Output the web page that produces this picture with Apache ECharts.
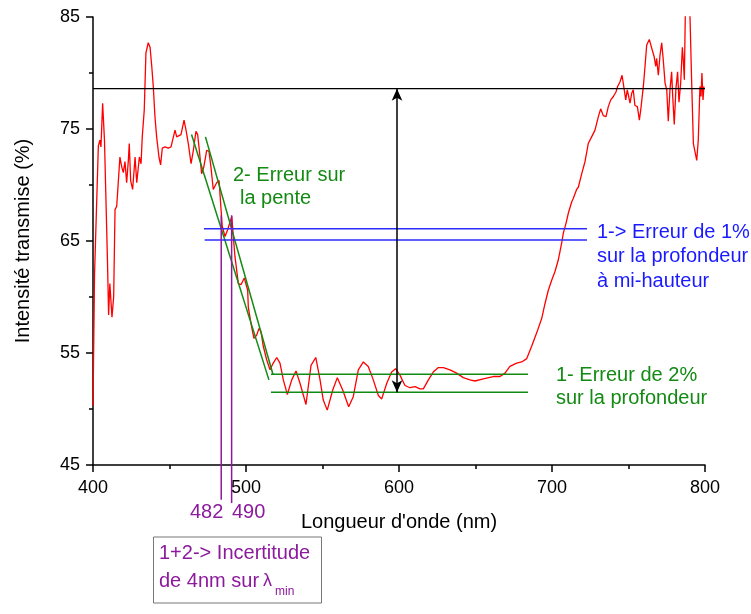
<!DOCTYPE html>
<html>
<head>
<meta charset="utf-8">
<script src="https://cdn.jsdelivr.net/npm/echarts@6/dist/echarts.min.js"></script>
<style>
  html, body { margin: 0; padding: 0; background: #fff; }
  #main { width: 751px; height: 614px; }
</style>
</head>
<body>
<div id="main"></div>
<script>
var wavelength = [400, 401, 403.5, 404.5, 405.2, 406.3, 407.5, 409.5, 410.2, 411, 412.4, 413.5, 414.4, 415.5, 416.5, 417.6, 418.8, 419.8, 420.9, 422, 423.1, 423.7, 424.6, 425.9, 427.5, 428.6, 430.3, 431.4, 432.2, 433.5, 434.6, 436.1, 437.3, 438.4, 439.4, 440.5, 441.6, 443.1, 444.2, 445.3, 447.1, 449.2, 451, 451.8, 453.6, 454.7, 455.8, 457.5, 459.5, 460.8, 462.3, 464.1, 465.6, 467.3, 468.4, 469.5, 471, 472.4, 474.3, 475.8, 477.1, 478.6, 480.8, 482.4, 483.7, 484.5, 486.3, 488, 490.7, 491.7, 492.8, 495, 496.7, 498.9, 501.1, 501.5, 503.7, 505.2, 507, 508.5, 509.8, 511.3, 513.5, 515.7, 517.8, 520.1, 522.2, 524.4, 527, 529.9, 532.7, 535.3, 539.2, 542.5, 545.6, 548.4, 550.5, 553.1, 556.7, 559.7, 563.2, 567.1, 570.1, 573.4, 576.7, 579.9, 583.2, 586.5, 588.7, 592, 595.2, 597.8, 600.7, 603.9, 607.2, 610.5, 613.7, 615.9, 619.2, 622.4, 625.7, 629, 633.3, 637.7, 642, 646.4, 649.7, 655.1, 661.6, 666, 669.3, 672.5, 676.9, 680.2, 683.5, 686.7, 690, 693.3, 695.4, 697.6, 699.8, 702, 704.1, 706.3, 707.4, 709.2, 710.7, 712.9, 713.9, 716.1, 717.2, 719.4, 721.6, 723.7, 725.9, 728.1, 730.3, 731.8, 733.5, 735.3, 736.8, 738.4, 740.1, 741.8, 742.9, 744.4, 745.8, 747.1, 748.2, 749.2, 751, 752.1, 753.1, 754.2, 755.8, 757.1, 758, 759.7, 760.8, 761.9, 763.6, 765.2, 766.7, 767.8, 768.4, 769.5, 770.6, 771.7, 772.7, 773.9, 775, 776, 777.1, 778.2, 778.9, 779.9, 781, 782.1, 783, 784.1, 785.2, 785.8, 786.5, 787.1, 788.6, 790.2, 791.3, 792.4, 794.6, 795.6, 796.7, 797.4, 798, 798.7, 799.3];
var transmission = [50.3, 62, 73.5, 74.0, 73.4, 77.3, 74.0, 63, 58.4, 61.2, 58.2, 60, 67.8, 68.1, 70.2, 72.5, 71.6, 71.1, 72.1, 70.2, 72.2, 73.7, 70.4, 69.6, 72.5, 70.2, 72.5, 71.9, 74.3, 76.7, 81.8, 82.7, 82.3, 80.6, 78.8, 76.1, 74.3, 72.5, 71.8, 73.3, 73.4, 73.3, 73.4, 73.3, 74.9, 74.3, 74.2, 74.5, 75.8, 74.9, 73.7, 71.9, 73.1, 74.8, 74.5, 73.1, 71.0, 71.6, 73.1, 73.0, 71.6, 69.6, 70.2, 70.4, 67.8, 66.3, 65.4, 66.0, 67.2, 65.4, 63.6, 61.2, 61.1, 61.7, 60.6, 59.1, 57.3, 56.3, 56.6, 57.2, 56.9, 55.6, 54.4, 53.5, 54.1, 54.6, 54.1, 52.6, 51.3, 52.6, 53.4, 52.3, 50.4, 53.9, 54.6, 52.6, 50.8, 49.9, 51.7, 52.8, 51.7, 50.2, 51.1, 53.5, 54.2, 53.8, 52.6, 51.2, 50.9, 52.3, 53.3, 53.6, 53.0, 52.1, 51.9, 52.0, 51.8, 51.8, 52.6, 53.3, 53.7, 53.7, 53.5, 53.2, 52.8, 52.6, 52.5, 52.7, 52.9, 52.9, 53.2, 53.8, 54.1, 54.2, 54.5, 55.6, 56.8, 58.1, 59.4, 60.6, 61.5, 62.3, 63.3, 64.8, 65.7, 66.6, 67.5, 68.5, 68.8, 69.6, 69.8, 71.0, 72.1, 73.7, 74.3, 74.9, 76.1, 76.8, 76.2, 76.1, 77.0, 77.6, 77.9, 78.3, 78.8, 79.2, 79.8, 78.6, 77.6, 78.5, 77.3, 78.2, 78.5, 77.1, 77.0, 75.8, 76.7, 78.8, 80.6, 82.5, 83.0, 82.2, 81.5, 80.6, 81.3, 79.8, 81.6, 82.7, 81.2, 79.1, 78.5, 75.7, 78.5, 80.1, 77.9, 75.4, 78.6, 80.1, 77.4, 79.1, 82.3, 81.2, 79.4, 85.0, 87.5, 85.0, 79.1, 73.7, 72.2, 74.0, 78.8, 77.9, 80.0, 77.6, 78.8];

// repères
var xTicks = [400, 800, 100];
var yTicks = [45, 85, 10];
var baseline = 78.6;            // ligne 100% (haut)
var arrowX = 598.7;
var arrowY = [78.6, 51.5];
var depthLines = [[516.3, 53.1, 684.3, 53.1], [516.3, 51.5, 684.3, 51.5]];
var slopeLines = [[464.4, 74.5, 515.0, 52.6], [473.5, 74.3, 517.6, 53.1]];
var halfLines = [[472.5, 66.1, 722.9, 66.1], [473.0, 65.1, 722.9, 65.1]];
var lambdaLines = [[483.8, 67.3, 483.8, 41.9], [490.6, 67.3, 490.6, 41.6]];

function seg(s) { return [[s[0], s[1]], [s[2], s[3]]]; }

var font = 'Arial, "Liberation Sans", sans-serif';
var myChart = echarts.init(document.getElementById('main'));

var series = [
  {
    type: 'line', data: wavelength.map(function (w, i) { return [w, transmission[i]]; }),
    symbol: 'none', lineStyle: { color: '#ff0000', width: 1.3 }, silent: true, z: 3
  },
  {
    type: 'line', data: [[400, baseline], [800, baseline]], symbol: 'none',
    lineStyle: { color: '#000', width: 1.3 }, silent: true,
    markLine: {
      silent: true, symbol: ['arrow', 'arrow'], symbolSize: [8, 12],
      lineStyle: { color: '#000', width: 1.5, type: 'solid' }, label: { show: false },
      data: [[{ coord: [arrowX, arrowY[0]] }, { coord: [arrowX, arrowY[1]] }]]
    }
  }
];
depthLines.concat(slopeLines).forEach(function (s) {
  series.push({ type: 'line', data: seg(s), symbol: 'none', silent: true, lineStyle: { color: '#138a13', width: 1.5 } });
});
halfLines.forEach(function (s) {
  series.push({ type: 'line', data: seg(s), symbol: 'none', silent: true, lineStyle: { color: '#2b2bff', width: 1.5 } });
});
lambdaLines.forEach(function (s) {
  series.push({ type: 'line', data: seg(s), symbol: 'none', silent: true, clip: false, lineStyle: { color: '#8c1a9c', width: 1.5 } });
});

function txt(t, x, y, color, size) {
  return { type: 'text', x: x, y: y, silent: true,
    style: { text: t, fill: color, font: size + 'px ' + font, verticalAlign: 'middle' } };
}

option = {
  animation: false,
  backgroundColor: '#fff',
  grid: { left: 93, right: 46, top: 17, bottom: 149, outerBoundsMode: 'none', containLabel: false },
  xAxis: {
    type: 'value', min: xTicks[0], max: xTicks[1], interval: xTicks[2],
    name: "Longueur d'onde (nm)", nameLocation: 'middle', nameGap: 47,
    nameTextStyle: { color: '#000', fontSize: 20, fontFamily: font },
    axisLine: { lineStyle: { color: '#000', width: 1.5 } },
    axisTick: { length: 7, lineStyle: { color: '#000', width: 1.5 } },
    minorTick: { show: true, splitNumber: 2, length: 4, lineStyle: { color: '#000', width: 1.5 } },
    axisLabel: { color: '#000', fontSize: 18, fontFamily: font, margin: 14 },
    splitLine: { show: false }
  },
  yAxis: {
    type: 'value', min: yTicks[0], max: yTicks[1], interval: yTicks[2],
    name: 'Intensité transmise (%)', nameLocation: 'middle', nameGap: 60,
    nameTextStyle: { color: '#000', fontSize: 20, fontFamily: font },
    axisLine: { show: true, lineStyle: { color: '#000', width: 1.5 } },
    axisTick: { show: true, length: 7, lineStyle: { color: '#000', width: 1.5 } },
    minorTick: { show: true, splitNumber: 2, length: 4, lineStyle: { color: '#000', width: 1.5 } },
    axisLabel: { color: '#000', fontSize: 18, fontFamily: font, margin: 13 },
    splitLine: { show: false }
  },
  series: series,
  graphic: [
    txt('2- Erreur sur', 233, 175, '#138a13', 20),
    txt('la pente', 240, 198.5, '#138a13', 20),
    txt('1-> Erreur de 1%', 597, 232, '#1a1aff', 20),
    txt('sur la profondeur', 597, 256, '#1a1aff', 20),
    txt('à mi-hauteur', 597, 281, '#1a1aff', 20),
    txt('1- Erreur de 2%', 556, 375, '#138a13', 20),
    txt('sur la profondeur', 556, 398, '#138a13', 20),
    txt('482', 190, 512, '#8c1a9c', 20),
    txt('490', 232, 512, '#8c1a9c', 20),
    { type: 'rect', silent: true, shape: { x: 153.5, y: 537, width: 168, height: 66 },
      style: { fill: '#fff', stroke: '#777', lineWidth: 1 } },
    txt('1+2-> Incertitude', 159, 553, '#8c1a9c', 20),
    txt('de 4nm sur', 159, 581, '#8c1a9c', 20),
    txt('λ', 263, 581, '#8c1a9c', 18),
    txt('min', 275, 592, '#8c1a9c', 12)
  ]
};

myChart.setOption(option);
</script>
</body>
</html>
